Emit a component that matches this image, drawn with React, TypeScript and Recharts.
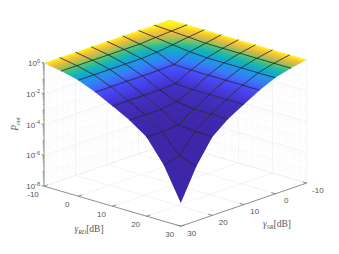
import React from 'react';
import { ComposedChart, Area, Line, Scatter, XAxis, YAxis } from 'recharts';

// surface grid, dB
const gammaRD = [-10, -5, 0, 5, 10, 15, 20, 25, 30];
const gammaSR = [-10, -5, 0, 5, 10, 15, 20, 25, 30];

// Pout, one row per gammaRD value
const poutRD0 = [1, 1, 1, 1, 1, 1, 1, 1, 1];
const poutRD1 = [1, 0.871, 0.759, 0.631, 0.631, 0.631, 0.631, 0.631, 0.631];
const poutRD2 = [1, 0.759, 0.537, 0.398, 0.339, 0.339, 0.339, 0.339, 0.339];
const poutRD3 = [1, 0.631, 0.398, 0.132, 0.123, 0.12, 0.12, 0.12, 0.12];
const poutRD4 = [1, 0.631, 0.339, 0.123, 0.0363, 0.0316, 0.0316, 0.0316, 0.0316];
const poutRD5 = [1, 0.631, 0.339, 0.12, 0.0316, 0.0115, 0.0081, 0.0081, 0.0081];
const poutRD6 = [1, 0.631, 0.339, 0.12, 0.0316, 0.0081, 0.00166, 0.00135, 0.00135];
const poutRD7 = [1, 0.631, 0.339, 0.12, 0.0316, 0.0081, 0.00135, 0.0000759, 0.0000447];
const poutRD8 = [1, 0.631, 0.339, 0.12, 0.0316, 0.0081, 0.00123, 0.000036, 0.00000032];
const pout = [poutRD0, poutRD1, poutRD2, poutRD3, poutRD4, poutRD5, poutRD6, poutRD7, poutRD8];

const dbTicks = [-10, 0, 10, 20, 30];
const dbMinorTicks = [-8, -6, -4, -2, 2, 4, 6, 8, 12, 14, 16, 18, 22, 24, 26, 28];
const decadeTicks = [0, -2, -4, -6, -8];
const decades = [0, -1, -2, -3, -4, -5, -6, -7];
const minorFactors = [2, 3, 4, 5, 6, 7, 8, 9];

const parula = ['#3e26a8', '#4743f0', '#3f6efc', '#2a8cef', '#169fd9', '#12b2bd', '#2bbd94', '#6fc46c', '#b2bf4e', '#e6b93f', '#fdc833', '#f9fb15'];

// view: orthographic projection of the matlab axes box
const WIDTH = 339;
const HEIGHT = 254;
const project = (rd: number, sr: number, logP: number) => {
  const i = (rd + 10) / 5;
  const j = (sr + 10) / 5;
  return {
    x: 170 + 17.1 * i - 15.75 * j,
    y: 143 + 5 * i + 5.4 * j - 15.4 * (logP + 8),
  };
};

const hex = (c: number) => Math.round(c).toString(16).padStart(2, '0');
const colorAt = (t: number) => {
  const p = Math.min(Math.max(t, 0), 1) * (parula.length - 1);
  const k = Math.min(Math.floor(p), parula.length - 2);
  const f = p - k;
  const a = parula[k];
  const b = parula[k + 1];
  const ch = (s: string, n: number) => parseInt(s.slice(1 + n * 2, 3 + n * 2), 16);
  return '#' + hex(ch(a, 0) + (ch(b, 0) - ch(a, 0)) * f) + hex(ch(a, 1) + (ch(b, 1) - ch(a, 1)) * f) + hex(ch(a, 2) + (ch(b, 2) - ch(a, 2)) * f);
};

const vertex = (i: number, j: number) => project(gammaRD[i], gammaSR[j], Math.log10(pout[i][j]));

// upper and lower outline of a facet, so that it can be a range Area
const facetOutline = (pts: { x: number; y: number }[]) => {
  const xs = Array.from(new Set(pts.map((p) => p.x))).sort((a, b) => a - b);
  return xs.map((x) => {
    const ys: number[] = [];
    pts.forEach((p, n) => {
      const q = pts[(n + 1) % pts.length];
      const lo = Math.min(p.x, q.x);
      const hi = Math.max(p.x, q.x);
      if (x < lo || x > hi) return;
      if (hi === lo) ys.push(p.y, q.y);
      else ys.push(p.y + ((q.y - p.y) * (x - p.x)) / (q.x - p.x));
    });
    return { x, band: [Math.min(...ys), Math.max(...ys)] };
  });
};

const facets: { id: string; outline: any[]; stops: { off: number; color: string }[]; grad: number[] }[] = [];
for (let i = 0; i < gammaRD.length - 1; i++) {
  for (let j = 0; j < gammaSR.length - 1; j++) {
    const pts = [vertex(i, j), vertex(i + 1, j), vertex(i + 1, j + 1), vertex(i, j + 1)];
    const ts = [pout[i][j], pout[i + 1][j], pout[i + 1][j + 1], pout[i][j + 1]];
    const mx = pts.reduce((s, p) => s + p.x, 0) / 4;
    const my = pts.reduce((s, p) => s + p.y, 0) / 4;
    const mt = ts.reduce((s, t) => s + t, 0) / 4;
    let sxx = 0, sxy = 0, syy = 0, sxt = 0, syt = 0;
    pts.forEach((p, n) => {
      const dx = p.x - mx;
      const dy = p.y - my;
      const dt = ts[n] - mt;
      sxx += dx * dx; sxy += dx * dy; syy += dy * dy; sxt += dx * dt; syt += dy * dt;
    });
    const det = sxx * syy - sxy * sxy;
    const gx = (syy * sxt - sxy * syt) / det;
    const gy = (sxx * syt - sxy * sxt) / det;
    const g2 = gx * gx + gy * gy || 1e-12;
    const tMin = Math.min(...ts);
    const tMax = Math.max(...ts);
    const grad = [
      mx + (gx * (tMin - mt)) / g2,
      my + (gy * (tMin - mt)) / g2,
      mx + (gx * (tMax - mt)) / g2,
      my + (gy * (tMax - mt)) / g2,
    ];
    const stops = [0, 0.2, 0.4, 0.6, 0.8, 1].map((off) => ({ off, color: colorAt(tMin + (tMax - tMin) * off) }));
    facets.push({ id: `facet-${i}-${j}`, outline: facetOutline(pts), stops, grad });
  }
}

type Seg = { key: string; data: { x: number; y: number }[]; stroke: string; width: number; dash?: string };
const segs: Seg[] = [];
const gridColor = '#ebebeb';
const minorColor = '#eeeeee';

// walls and floor
dbTicks.forEach((v) => {
  segs.push({ key: `fl-rd-${v}`, data: [project(v, -10, -8), project(v, 30, -8)], stroke: gridColor, width: 0.6 });
  segs.push({ key: `fl-sr-${v}`, data: [project(-10, v, -8), project(30, v, -8)], stroke: gridColor, width: 0.6 });
  segs.push({ key: `wl-sr-${v}`, data: [project(-10, v, -8), project(-10, v, 0)], stroke: gridColor, width: 0.6 });
  segs.push({ key: `wr-rd-${v}`, data: [project(v, -10, -8), project(v, -10, 0)], stroke: gridColor, width: 0.6 });
});
dbMinorTicks.forEach((v) => {
  segs.push({ key: `wlm-${v}`, data: [project(-10, v, -8), project(-10, v, 0)], stroke: minorColor, width: 0.5, dash: '1 1.5' });
  segs.push({ key: `wrm-${v}`, data: [project(v, -10, -8), project(v, -10, 0)], stroke: minorColor, width: 0.5, dash: '1 1.5' });
});
decadeTicks.forEach((d) => {
  segs.push({ key: `wl-z-${d}`, data: [project(-10, -10, d), project(-10, 30, d)], stroke: gridColor, width: 0.6 });
  segs.push({ key: `wr-z-${d}`, data: [project(-10, -10, d), project(30, -10, d)], stroke: gridColor, width: 0.6 });
});
decades.forEach((d) => {
  minorFactors.forEach((f) => {
    const z = d - 1 + Math.log10(f);
    segs.push({ key: `wlm-z-${d}-${f}`, data: [project(-10, -10, z), project(-10, 30, z)], stroke: minorColor, width: 0.5, dash: '1 1.5' });
    segs.push({ key: `wrm-z-${d}-${f}`, data: [project(-10, -10, z), project(30, -10, z)], stroke: minorColor, width: 0.5, dash: '1 1.5' });
  });
});

// axes drawn on top of the walls
const axisColor = '#666666';
const axes: Seg[] = [
  { key: 'ax-z', data: [project(-10, 30, -8), project(-10, 30, 0)], stroke: axisColor, width: 0.7 },
  { key: 'ax-rd', data: [project(-10, 30, -8), project(30, 30, -8)], stroke: axisColor, width: 0.7 },
  { key: 'ax-sr', data: [project(30, 30, -8), project(30, -10, -8)], stroke: axisColor, width: 0.7 },
];
dbTicks.forEach((v) => {
  axes.push({ key: `t-rd-${v}`, data: [project(v, 30, -8), project(v, 28.8, -8)], stroke: axisColor, width: 0.7 });
  axes.push({ key: `t-sr-${v}`, data: [project(30, v, -8), project(28.8, v, -8)], stroke: axisColor, width: 0.7 });
});
decadeTicks.forEach((d) => {
  const p = project(-10, 30, d);
  axes.push({ key: `t-z-${d}`, data: [p, { x: p.x - 2.5, y: p.y - 0.7 }], stroke: axisColor, width: 0.7 });
});
decades.forEach((d) => {
  minorFactors.forEach((f) => {
    const p = project(-10, 30, d - 1 + Math.log10(f));
    axes.push({ key: `tm-z-${d}-${f}`, data: [p, { x: p.x - 1.3, y: p.y - 0.4 }], stroke: axisColor, width: 0.5 });
  });
});

// mesh lines, only the inner ones show dark
const mesh: Seg[] = [];
for (let i = 1; i < gammaRD.length - 1; i++) {
  mesh.push({ key: `m-i-${i}`, data: gammaSR.map((_, j) => vertex(i, j)), stroke: '#12121c', width: 0.75 });
}
for (let j = 1; j < gammaSR.length - 1; j++) {
  mesh.push({ key: `m-j-${j}`, data: gammaRD.map((_, i) => vertex(i, j)), stroke: '#12121c', width: 0.75 });
}

const textColor = '#555555';
const rdLabels = dbTicks.map((v) => {
  const p = project(v, 30, -8);
  return { x: p.x - 11, y: p.y + 8, text: String(v) };
});
const srLabels = dbTicks.map((v) => {
  const p = project(30, v, -8);
  return { x: p.x + 11, y: p.y + 7, text: String(v) };
});
const zLabels = decadeTicks.map((d) => {
  const p = project(-10, 30, d);
  return { x: p.x - 4, y: p.y, exp: String(d) };
});

const TickText = (props: any) => (
  <text x={props.cx} y={props.cy} fontFamily="Liberation Sans" fontSize={8} fill={textColor} textAnchor="middle" dominantBaseline="central">
    {props.payload.text}
  </text>
);
const PowerText = (props: any) => (
  <text x={props.cx} y={props.cy + 3} fontFamily="Liberation Sans" fontSize={8} fill={textColor} textAnchor="end">
    10<tspan fontSize={5.5} dy={-3.5}>{props.payload.exp}</tspan>
  </text>
);
const SymbolTitle = (props: any) => (
  <text x={props.cx} y={props.cy + 3} fontFamily="Liberation Serif" fontSize={9.5} fill={textColor} textAnchor="middle">
    <tspan fontStyle="italic">γ</tspan>
    <tspan fontStyle="italic" fontSize={6} dy={2}>{props.payload.sub}</tspan>
    <tspan dy={-2}>[dB]</tspan>
  </text>
);
const PoutTitle = (props: any) => (
  <text x={0} y={0} transform={`translate(${props.cx + 3},${props.cy}) rotate(-90)`} fontFamily="Liberation Serif" fontSize={9.5} fill={textColor} textAnchor="middle">
    <tspan fontStyle="italic">P</tspan>
    <tspan fontStyle="italic" fontSize={6} dy={2}>out</tspan>
  </text>
);

const renderSeg = (s: Seg, zIndex: number) => (
  <Line
    key={s.key}
    data={s.data}
    dataKey="y"
    stroke={s.stroke}
    strokeWidth={s.width}
    strokeDasharray={s.dash}
    dot={false}
    activeDot={false}
    legendType="none"
    isAnimationActive={false}
    zIndex={zIndex}
  />
);

const App = () => (
  <div style={{ position: 'absolute', left: 0, top: 0, width: WIDTH, height: HEIGHT, background: '#fff' }}>
    <ComposedChart width={WIDTH} height={HEIGHT} margin={{ top: 0, right: 0, bottom: 0, left: 0 }}>
      <defs>
        {facets.map((f) => (
          <linearGradient key={f.id} id={f.id} gradientUnits="userSpaceOnUse" x1={f.grad[0]} y1={f.grad[1]} x2={f.grad[2]} y2={f.grad[3]}>
            {f.stops.map((s) => (
              <stop key={s.off} offset={s.off} stopColor={s.color} />
            ))}
          </linearGradient>
        ))}
      </defs>
      <XAxis dataKey="x" type="number" domain={[0, WIDTH]} hide allowDataOverflow />
      <YAxis dataKey="y" type="number" domain={[0, HEIGHT]} reversed hide allowDataOverflow />
      {segs.map((s) => renderSeg(s, 10))}
      {axes.map((s) => renderSeg(s, 20))}
      {facets.map((f) => (
        <Area
          key={f.id}
          data={f.outline}
          dataKey="band"
          type="linear"
          fill={`url(#${f.id})`}
          fillOpacity={1}
          stroke="none"
          dot={false}
          activeDot={false}
          legendType="none"
          isAnimationActive={false}
          zIndex={100}
        />
      ))}
      {mesh.map((s) => renderSeg(s, 400))}
      <Scatter data={rdLabels} dataKey="y" shape={TickText} isAnimationActive={false} />
      <Scatter data={srLabels} dataKey="y" shape={TickText} isAnimationActive={false} />
      <Scatter data={zLabels} dataKey="y" shape={PowerText} isAnimationActive={false} />
      <Scatter data={[{ x: 89, y: 229, sub: 'RD' }]} dataKey="y" shape={SymbolTitle} isAnimationActive={false} />
      <Scatter data={[{ x: 277, y: 224, sub: 'SR' }]} dataKey="y" shape={SymbolTitle} isAnimationActive={false} />
      <Scatter data={[{ x: 15, y: 124 }]} dataKey="y" shape={PoutTitle} isAnimationActive={false} />
    </ComposedChart>
  </div>
);

export default App;
